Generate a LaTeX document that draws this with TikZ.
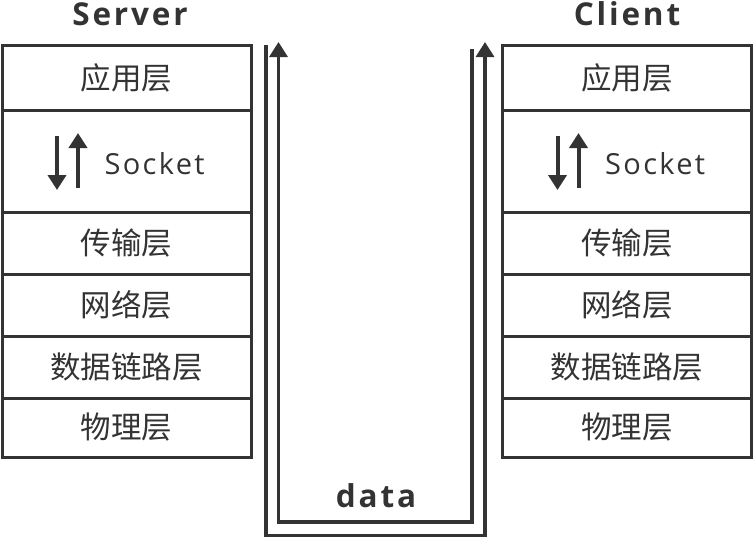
\documentclass[tikz,border=0pt]{standalone}
\usepackage{fontspec}
\setmainfont{Open Sans}
\newfontfamily\cjk{Noto Sans CJK SC}
\newfontfamily\titlefont[LetterSpace=9]{Open Sans Bold}
\newfontfamily\sockfont[LetterSpace=8]{Open Sans}
\usetikzlibrary{arrows.meta}
\definecolor{ink}{HTML}{333333}
\begin{document}
\begin{tikzpicture}[x=1pt,y=-1pt,
  layer/.style={draw=ink,line width=3pt,minimum width=249pt,inner sep=0pt,text=ink,font=\cjk\fontsize{30.5}{33}\selectfont},
  titletext/.style={text=ink,font=\titlefont\fontsize{31.5}{34}\selectfont},
  flow/.style={draw=ink,line width=3.2pt},
  tip/.style={-{Triangle[width=18pt,length=15pt]}},
  stip/.style={-{Triangle[width=18pt,length=15pt]}},
  ]
\useasboundingbox (0,0) rectangle (754,538);
\foreach \side/\cx in {S/126.5,C/627} {
  \node[layer,minimum height=65pt] (\side1) at (\cx,77.5) {应用层};
  \node[layer,minimum height=102pt] (\side2) at (\cx,161) {};
  \node[layer,minimum height=62pt] (\side3) at (\cx,243) {传输层};
  \node[layer,minimum height=62pt] (\side4) at (\cx,305) {网络层};
  \node[layer,minimum height=62pt] (\side5) at (\cx,367) {数据链路层};
  \node[layer,minimum height=59pt] (\side6) at (\cx,427.5) {物理层};
  \node[text=ink,font=\sockfont\fontsize{29}{32}\selectfont,anchor=west,inner sep=0pt] (\side sock) at (\cx-22,164) {Socket};
  \coordinate (\side da) at (\cx-69.5,136);
  \coordinate (\side db) at (\cx-69.5,190);
  \coordinate (\side ua) at (\cx-48.5,188);
  \coordinate (\side ub) at (\cx-48.5,133);
  \draw[flow,line width=4pt,stip] (\side da) -- (\side db);
  \draw[flow,line width=4pt,stip] (\side ua) -- (\side ub);
}
\node[titletext] (st) at (130,14) {Server};
\node[titletext] (ct) at (627,14) {Client};
\node[titletext] (data) at (376,496) {data};
\coordinate (o1) at (266,45);
\coordinate (o2) at (266,535.5);
\coordinate (o3) at (485,535.5);
\coordinate (o4) at (485,42);
\coordinate (i1) at (472,49);
\coordinate (i2) at (472,522);
\coordinate (i3) at (278.5,522);
\coordinate (i4) at (278.5,42);
\draw[flow,tip] (o1) -- (o2) -- (o3) -- (o4);
\draw[flow,tip] (i1) -- (i2) -- (i3) -- (i4);
\end{tikzpicture}
\end{document}
